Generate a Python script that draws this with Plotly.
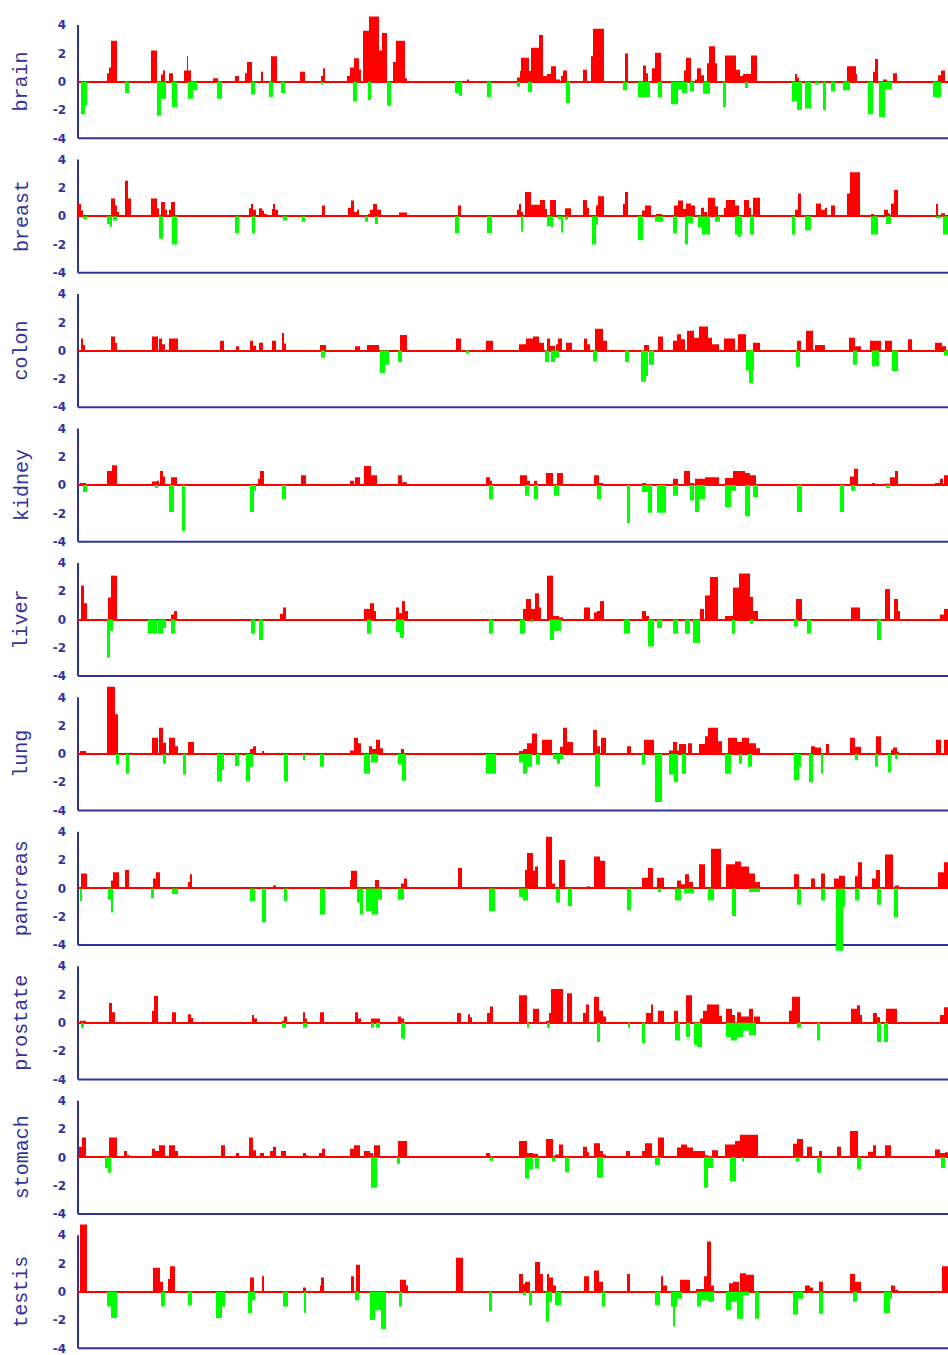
import plotly.graph_objects as go
from plotly.subplots import make_subplots

# each entry: (start position, end position, log ratio)
tissues = ["brain", "breast", "colon", "kidney", "liver",
           "lung", "pancreas", "prostate", "stomach", "testis"]

brain = [
    (81, 85, -2.3), (85, 87, -1.7),
    (107, 109, 0.6), (109, 111, 1.0), (111, 117, 2.9),
    (125, 129, -0.8), (151, 157, 2.2),
    (157, 161, -2.4), (161, 166, -1.2), (161, 163, 0.5), (163, 165, 0.8),
    (169, 173, 0.6), (172, 177, -1.8),
    (184, 187, 0.8), (187, 188, 1.8), (188, 191, 0.8),
    (188, 193, -1.2), (193, 197, -0.6),
    (213, 218, 0.25), (217, 222, -1.2), (235, 239, 0.4),
    (245, 247, 0.6), (247, 252, 1.4), (251, 255, -0.9),
    (261, 263, 0.7), (269, 273, -1.1), (271, 277, 1.8), (281, 285, -0.8),
    (300, 305, 0.7),
    (321, 323, 0.4), (323, 325, 0.95), (321, 323, -0.2),
    (347, 350, 0.4), (350, 354, 1.0), (354, 359, 1.66), (359, 361, 0.85),
    (353, 357, -1.4),
    (363, 369, 3.6), (369, 379, 4.6), (379, 382, 2.2), (382, 387, 3.45),
    (368, 371, -1.3), (387, 391, -1.7),
    (393, 396, 1.4), (396, 405, 2.9), (405, 407, 0.25),
    (455, 459, -0.8), (459, 462, -1.0), (467, 469, 0.15), (487, 491, -1.1),
    (517, 520, -0.35),
    (517, 520, 0.3), (520, 522, 0.75), (521, 529, 1.7), (529, 531, 0.75),
    (531, 539, 2.4), (539, 543, 3.3), (543, 547, 0.4), (547, 551, 0.55),
    (551, 556, 1.1), (556, 560, 0.15),
    (528, 532, -0.75), (561, 563, 0.4), (563, 567, 0.8), (566, 570, -1.5),
    (583, 587, 0.85), (591, 593, 1.8), (593, 604, 3.75),
    (623, 627, -0.6), (625, 628, 2.0), (638, 650, -1.1),
    (643, 646, 1.15), (646, 648, 0.6), (652, 655, 0.95), (655, 661, 2.05),
    (658, 662, -1.1),
    (671, 678, -1.6), (678, 682, -0.55), (682, 687, -0.8),
    (684, 686, 0.8), (686, 691, 1.7), (690, 694, -0.7),
    (695, 697, 0.15), (697, 701, 0.95), (701, 704, 0.45), (703, 710, -0.85),
    (707, 709, 1.3), (709, 715, 2.5), (715, 717, 1.3), (723, 726, -1.8),
    (725, 736, 1.85), (736, 740, 0.85), (740, 743, 0.4), (743, 751, 0.55),
    (751, 757, 1.85), (745, 748, -0.45),
    (792, 797, -1.4), (797, 802, -2.0), (805, 811, -1.9), (815, 819, -0.2),
    (823, 826, -2.0), (831, 835, -0.7),
    (795, 797, 0.55), (797, 799, 0.3),
    (847, 856, 1.1), (853, 857, 0.55), (843, 850, -0.6),
    (868, 873, -2.3), (879, 885, -2.5), (885, 892, -0.55),
    (873, 875, 0.7), (875, 878, 1.6), (883, 887, 0.15), (893, 897, 0.6),
    (933, 941, -1.1), (938, 941, 0.45), (941, 945, 0.8),
]

breast = [
    (78, 81, 0.85), (81, 83, 0.4), (83, 87, -0.2),
    (111, 115, 1.25), (115, 117, 0.75), (117, 119, 0.3),
    (107, 110, -0.55), (110, 112, -0.75), (113, 117, -0.3),
    (125, 128, 2.5), (128, 131, 1.25),
    (151, 157, 1.25), (157, 159, 0.55), (159, 163, -1.6),
    (161, 165, 1.0), (165, 167, 0.45), (169, 171, 0.45), (171, 175, 1.0),
    (172, 177, -2.0), (235, 239, -1.2),
    (249, 251, 0.55), (251, 253, 0.85), (253, 256, 0.45), (252, 255, -1.2),
    (259, 262, 0.55), (262, 264, 0.4), (264, 267, 0.15),
    (272, 273, 0.5), (273, 275, 0.85), (275, 278, 0.45),
    (283, 287, -0.3), (302, 305, -0.4), (322, 325, 0.75),
    (348, 351, 0.6), (351, 354, 1.1), (354, 357, 0.3), (357, 359, 0.45),
    (365, 368, -0.4), (368, 370, 0.15), (373, 377, 0.85), (370, 381, 0.45),
    (375, 378, -0.55), (399, 407, 0.25),
    (458, 461, 0.75), (455, 459, -1.2), (487, 492, -1.2),
    (517, 519, 0.45), (519, 521, 0.85), (521, 523, 0.3), (521, 523, -1.1),
    (525, 531, 1.7), (531, 540, 0.8), (540, 545, 1.15), (545, 547, 0.5),
    (550, 556, 1.15),
    (547, 551, -0.7), (551, 553, -0.8), (558, 561, -0.2), (561, 563, -1.15),
    (565, 568, -0.25), (565, 571, 0.55),
    (583, 587, 1.15), (587, 589, 0.6), (592, 596, -2.0), (596, 598, -0.6),
    (596, 598, 0.75), (598, 604, 1.4),
    (623, 625, 0.85), (625, 628, 1.7), (638, 643, -1.7),
    (642, 645, 0.4), (645, 651, 0.75), (656, 662, 0.15), (655, 663, -0.4),
    (674, 678, 0.75), (678, 683, 1.1), (683, 686, 0.5), (686, 691, 0.9),
    (691, 695, 0.75),
    (673, 677, -1.2), (685, 688, -2.0), (688, 693, -0.5), (698, 702, -0.8),
    (702, 710, -1.3), (715, 720, -0.4),
    (701, 704, 0.6), (704, 707, 0.3), (708, 715, 1.3), (715, 718, 0.7),
    (724, 726, 0.6), (726, 735, 1.15), (735, 739, 0.75), (744, 749, 1.15),
    (749, 751, 0.6), (753, 760, 1.3),
    (735, 742, -1.3), (738, 741, -1.45), (750, 754, -1.3),
    (795, 798, 0.45), (798, 801, 1.6), (792, 795, -1.3), (805, 811, -1.0),
    (816, 821, 0.9), (821, 825, 0.45), (825, 827, 0.6), (831, 835, 0.75),
    (847, 850, 1.6), (850, 860, 3.1),
    (871, 874, 0.15), (871, 878, -1.3),
    (884, 888, 0.45), (887, 890, 0.2), (891, 894, 0.9), (894, 898, 1.85),
    (886, 891, -0.55),
    (936, 938, 0.85), (941, 945, 0.2), (936, 941, -0.15), (943, 948, -1.3),
]

colon = [
    (81, 83, 0.85), (83, 85, 0.4), (111, 115, 1.0), (115, 117, 0.55),
    (152, 158, 1.0), (159, 162, 0.85), (162, 165, 0.45), (169, 178, 0.85),
    (220, 224, 0.7), (236, 239, 0.3), (250, 253, 0.7), (253, 256, 0.35),
    (259, 263, 0.55), (272, 276, 0.7), (282, 284, 1.25), (284, 286, 0.5),
    (320, 326, 0.4), (321, 325, -0.5), (355, 360, 0.3), (367, 379, 0.4),
    (380, 385, -1.6), (385, 389, -1.0), (400, 407, 1.1), (398, 402, -0.8),
    (456, 461, 0.85), (466, 469, -0.2), (486, 493, 0.7),
    (519, 526, 0.45), (526, 533, 0.85), (533, 539, 1.0), (539, 544, 0.55),
    (547, 550, 0.85), (550, 555, 0.35), (556, 562, 0.45), (558, 562, 0.85),
    (566, 572, 0.55),
    (545, 549, -0.8), (551, 555, -0.8), (555, 559, -0.5),
    (584, 587, 0.85), (587, 590, 0.45), (595, 603, 1.55), (603, 607, 0.7),
    (593, 597, -0.75), (625, 629, -0.8),
    (641, 646, -2.2), (646, 648, -1.8), (649, 654, -1.0),
    (644, 649, 0.4), (658, 663, 1.0),
    (673, 677, 0.7), (677, 681, 1.15), (681, 685, 0.8), (687, 694, 1.4),
    (694, 699, 0.9), (699, 708, 1.7), (708, 712, 0.9), (712, 719, 0.45),
    (724, 735, 0.85), (738, 746, 1.15), (753, 760, 0.55),
    (746, 754, -1.4), (749, 753, -2.3),
    (797, 801, 0.7), (806, 813, 1.4), (815, 825, 0.4), (796, 800, -1.15),
    (849, 855, 0.9), (855, 861, 0.3), (853, 857, -1.0),
    (870, 881, 0.7), (885, 892, 0.7), (908, 912, 0.8),
    (872, 879, -1.1), (892, 898, -1.45),
    (935, 942, 0.55), (942, 946, 0.3), (944, 948, -0.35),
]

kidney = [
    (80, 86, 0.15), (83, 87, -0.5), (107, 112, 1.0), (112, 117, 1.4),
    (152, 157, 0.25), (157, 159, 0.3), (160, 163, 1.0), (163, 165, 0.6),
    (171, 177, 0.55),
    (155, 158, -0.2), (169, 174, -1.9), (182, 185, -3.25),
    (250, 254, -1.9), (254, 256, -0.4), (258, 260, 0.45), (260, 264, 1.0),
    (282, 286, -1.0), (301, 306, 0.7),
    (350, 354, 0.3), (355, 360, 0.55), (364, 371, 1.35), (371, 377, 0.7),
    (398, 402, 0.7), (402, 407, 0.2),
    (486, 490, 0.55), (490, 492, 0.3), (489, 493, -1.0),
    (520, 527, 0.7), (527, 530, 0.3), (534, 537, 0.3), (546, 553, 0.85),
    (557, 563, 0.85),
    (525, 529, -0.75), (534, 538, -1.0), (554, 559, -0.75),
    (594, 599, 0.7), (599, 603, 0.15), (597, 601, -1.0), (627, 630, -2.7),
    (642, 646, 0.15), (642, 648, -0.5), (648, 652, -1.95), (657, 666, -1.95),
    (673, 678, 0.45), (673, 678, -0.75),
    (684, 690, 1.0), (690, 694, 0.15),
    (690, 694, -1.1), (695, 699, -1.9), (699, 705, -1.0),
    (695, 705, 0.45), (705, 719, 0.55),
    (725, 733, 0.5), (733, 745, 1.0), (745, 750, 0.85), (750, 756, 0.7),
    (725, 731, -1.55), (731, 736, -0.4), (745, 750, -2.2), (753, 758, -0.85),
    (797, 802, -1.9), (840, 844, -1.9),
    (850, 854, 0.6), (854, 858, 1.15), (851, 855, -0.4),
    (872, 875, 0.15), (886, 889, 0.1), (890, 895, 0.55), (895, 898, 1.0),
    (886, 890, -0.2),
    (935, 940, 0.15), (940, 943, 0.45), (944, 948, 0.7),
]

liver = [
    (81, 84, 2.4), (84, 87, 1.15), (108, 111, 1.55), (111, 117, 3.1),
    (107, 110, -2.7), (110, 113, -0.8),
    (148, 154, -1.0), (154, 157, -1.0), (158, 163, -1.0), (163, 166, -0.6),
    (171, 174, 0.35), (174, 177, 0.6), (171, 175, -1.0),
    (251, 255, -1.0), (259, 263, -1.45), (280, 283, 0.4), (283, 286, 0.85),
    (364, 370, 0.75), (370, 374, 1.15), (372, 376, 0.6), (367, 371, -1.0),
    (396, 399, 0.85), (399, 402, 0.45), (402, 405, 1.3), (405, 408, 0.6),
    (396, 400, -0.9), (400, 404, -1.3), (489, 493, -1.0),
    (523, 526, 0.75), (526, 531, 1.45), (531, 535, 0.75), (535, 539, 1.85),
    (539, 541, 0.85), (520, 525, -1.0), (531, 533, -0.2),
    (547, 553, 3.1), (553, 559, 0.25), (559, 563, 0.15),
    (550, 554, -1.45), (554, 561, -0.8),
    (584, 590, 0.85), (594, 597, 0.5), (597, 600, 0.6), (600, 604, 1.3),
    (624, 630, -1.0), (642, 646, 0.6), (646, 649, 0.25),
    (648, 654, -1.9), (657, 662, -0.6),
    (673, 678, -1.0), (685, 690, -1.0), (693, 700, -1.65),
    (700, 704, 0.75), (705, 710, 1.7), (710, 718, 3.0), (732, 735, -1.0),
    (725, 733, 0.25), (733, 739, 2.25), (739, 750, 3.25), (750, 753, 1.6),
    (753, 758, 0.6), (750, 753, -0.3),
    (796, 802, 1.45), (794, 798, -0.5), (807, 811, -1.0),
    (851, 860, 0.85), (877, 881, -1.45),
    (885, 890, 2.15), (894, 898, 1.45), (898, 900, 0.6),
    (940, 944, 0.35), (944, 948, 0.75),
]

lung = [
    (80, 86, 0.2), (107, 115, 4.75), (115, 118, 2.8),
    (116, 119, -0.75), (126, 129, -1.4),
    (152, 158, 1.15), (159, 163, 1.85), (163, 166, 0.8), (169, 175, 1.15),
    (175, 178, 0.55), (188, 194, 0.85),
    (163, 166, -0.7), (183, 186, -1.45),
    (217, 222, -1.95), (222, 224, -1.1), (235, 239, -0.85), (246, 250, -1.95),
    (250, 253, -0.9), (284, 288, -1.95), (303, 305, -0.45), (320, 324, -0.9),
    (250, 253, 0.35), (253, 256, 0.55), (262, 264, 0.2),
    (350, 354, 0.25), (354, 358, 1.15), (358, 361, 0.75),
    (364, 370, -1.4), (371, 378, -0.6),
    (369, 372, 0.55), (372, 376, 0.35), (376, 380, 1.0), (380, 383, 0.4),
    (401, 404, 0.35), (398, 402, -0.75), (402, 406, -1.9), (486, 496, -1.4),
    (519, 523, 0.2), (523, 527, 0.35), (527, 532, 0.75), (532, 537, 1.45),
    (542, 545, 1.0), (545, 552, 1.0), (560, 563, 0.5), (563, 567, 1.85),
    (567, 573, 0.85),
    (519, 523, -0.6), (523, 527, -1.4), (527, 532, -0.9), (536, 540, -0.75),
    (553, 563, -0.35), (557, 560, -0.7),
    (593, 597, 1.7), (597, 600, 0.55), (601, 606, 1.15), (595, 600, -2.3),
    (627, 631, 0.55), (644, 654, 1.0), (642, 645, -0.75), (655, 662, -3.4),
    (669, 674, 0.25), (673, 677, 0.85), (677, 683, 0.25), (679, 686, 0.7),
    (688, 692, 0.75),
    (669, 674, -1.45), (674, 678, -2.0), (682, 686, -1.4),
    (699, 705, 0.7), (705, 708, 1.25), (708, 718, 1.85), (718, 722, 0.9),
    (725, 731, -1.4), (739, 742, -0.7), (748, 752, -0.9),
    (728, 737, 1.15), (737, 742, 0.85), (742, 749, 1.15), (749, 756, 0.75),
    (755, 760, 0.4),
    (794, 799, -1.85), (799, 801, -0.9), (809, 813, -2.0), (821, 823, -1.4),
    (811, 815, 0.55), (815, 821, 0.45), (826, 829, 0.7),
    (850, 855, 1.15), (855, 861, 0.5), (855, 858, -0.45), (875, 878, -0.9),
    (876, 881, 1.25), (891, 895, 0.3), (893, 897, 0.45), (897, 899, 0.15),
    (888, 891, -1.3), (895, 898, -0.35),
    (936, 941, 1.0), (944, 948, 1.0),
]

pancreas = [
    (80, 82, -0.9), (81, 87, 1.05), (108, 111, -0.8), (111, 113, -1.7),
    (111, 113, 0.55), (113, 119, 1.15), (125, 129, 1.3),
    (153, 156, 0.7), (156, 160, 1.15), (151, 154, -0.7), (172, 178, -0.4),
    (188, 190, 0.45), (190, 192, 1.0),
    (250, 255, -0.9), (262, 266, -2.4), (273, 276, 0.2), (284, 287, -0.9),
    (320, 325, -1.85),
    (350, 353, 0.6), (351, 357, 1.25), (357, 360, -1.0), (360, 363, -1.85),
    (366, 372, -1.6), (372, 378, -1.85), (378, 382, -0.8), (375, 379, 0.6),
    (401, 404, 0.35), (404, 407, 0.7), (398, 404, -0.8),
    (458, 462, 1.45), (489, 495, -1.6),
    (525, 529, 1.3), (527, 533, 2.5), (533, 538, 1.25), (535, 538, 1.55),
    (519, 523, -0.6), (523, 528, -0.85),
    (546, 552, 3.65), (552, 555, 0.35), (556, 560, -1.0), (559, 565, 2.0),
    (568, 572, -1.25),
    (587, 590, 0.15), (594, 600, 2.25), (600, 605, 1.95), (627, 631, -1.55),
    (642, 648, 0.75), (648, 653, 1.45), (657, 664, 0.75), (658, 661, -0.25),
    (677, 681, 0.55), (681, 685, 0.3), (685, 689, 1.0), (689, 693, 0.45),
    (675, 681, -0.85), (684, 694, -0.35),
    (699, 705, 1.7), (711, 721, 2.8), (708, 714, -0.85),
    (726, 735, 1.7), (735, 741, 1.9), (741, 749, 1.55), (749, 755, 1.05),
    (755, 760, 0.45), (732, 736, -1.95), (749, 760, -0.25),
    (794, 799, 1.0), (811, 815, 0.7), (821, 825, 1.05),
    (797, 801, -1.15), (821, 825, -0.85),
    (836, 843, -4.4), (841, 845, -1.3),
    (834, 839, 0.7), (839, 845, 0.9), (855, 859, 0.85), (858, 862, 1.85),
    (855, 859, -0.85),
    (872, 876, 0.7), (876, 880, 1.3), (885, 893, 2.4), (895, 899, 0.2),
    (877, 881, -1.15), (894, 898, -2.05),
    (938, 944, 1.15), (944, 948, 1.85),
]

prostate = [
    (80, 86, 0.15), (81, 84, -0.35), (109, 112, 1.4), (112, 115, 0.75),
    (152, 154, 0.85), (154, 158, 1.9), (172, 176, 0.75), (188, 191, 0.6),
    (191, 193, 0.35), (252, 254, 0.55), (254, 257, 0.3),
    (282, 284, 0.15), (284, 287, 0.45), (282, 286, -0.35),
    (303, 305, 0.75), (305, 307, 0.3), (303, 307, -0.35), (320, 324, 0.75),
    (355, 358, 0.75), (358, 361, 0.3),
    (371, 380, 0.3), (371, 374, -0.35), (376, 380, -0.35),
    (398, 401, 0.45), (401, 404, 0.3), (401, 405, -1.1),
    (457, 461, 0.7), (468, 470, 0.6), (470, 472, 0.4),
    (487, 490, 0.7), (490, 493, 1.15), (519, 527, 1.95), (527, 529, -0.35),
    (533, 539, 1.0),
    (546, 549, 0.15), (549, 551, 0.7), (551, 563, 2.4), (567, 572, 2.1),
    (547, 550, -0.35),
    (583, 586, 0.7), (586, 589, 1.3), (594, 599, 1.85), (599, 603, 0.85),
    (603, 606, 0.45), (597, 600, -1.35), (628, 630, -0.35),
    (646, 651, 0.7), (651, 653, 1.3), (658, 664, 0.85), (642, 645, -1.45),
    (674, 678, 0.85), (686, 692, 1.95), (700, 703, 0.3), (703, 707, 0.85),
    (707, 719, 1.3), (719, 722, 0.5),
    (675, 680, -1.25), (686, 690, -1.0), (694, 697, -1.55), (697, 702, -1.7),
    (726, 732, 1.0), (732, 735, 0.55), (737, 741, 0.75), (741, 749, 0.45),
    (749, 753, 1.0), (754, 760, 0.45),
    (726, 731, -1.0), (731, 737, -1.25), (737, 743, -1.0), (743, 749, -0.55),
    (749, 756, -0.85),
    (789, 792, 0.85), (792, 800, 1.85), (797, 801, -0.35), (817, 820, -1.25),
    (851, 857, 1.0), (857, 860, 1.25), (860, 862, 0.55),
    (873, 877, 0.7), (877, 880, 0.4), (886, 897, 1.0),
    (877, 881, -1.35), (884, 888, -1.35),
    (940, 944, 0.55), (944, 948, 1.1),
]

stomach = [
    (79, 82, 0.75), (82, 86, 1.4), (105, 108, -0.75), (108, 111, -1.1),
    (109, 117, 1.4), (124, 127, 0.45), (127, 130, 0.15),
    (152, 155, 0.6), (155, 159, 0.45), (159, 165, 0.85), (169, 175, 0.85),
    (175, 178, 0.45),
    (221, 225, 0.85), (236, 239, 0.3), (249, 253, 1.4), (253, 256, 0.5),
    (260, 264, 0.3), (270, 273, 0.45), (273, 276, 0.75), (281, 286, 0.45),
    (303, 306, 0.3), (306, 308, 0.15), (319, 322, 0.3), (322, 325, 0.6),
    (350, 354, 0.6), (354, 360, 0.85), (364, 370, 0.45), (370, 373, 0.3),
    (374, 380, 0.85), (371, 377, -2.15),
    (398, 407, 1.15), (397, 400, -0.45), (486, 490, 0.3), (490, 493, -0.25),
    (519, 527, 1.15), (527, 533, 0.3), (533, 538, 0.25), (546, 553, 1.3),
    (555, 560, 0.2), (559, 563, 0.9),
    (525, 529, -1.5), (529, 533, -0.85), (535, 539, -0.8), (552, 555, -0.3),
    (565, 569, -1.05),
    (583, 587, 0.75), (585, 589, 0.35), (594, 600, 1.0), (600, 603, 0.45),
    (603, 606, 0.2), (597, 603, -1.45), (626, 630, 0.45),
    (642, 645, 0.45), (645, 652, 1.0), (658, 664, 1.4), (655, 660, -0.55),
    (677, 681, 0.7), (681, 687, 0.9), (687, 693, 0.7), (693, 699, 0.45),
    (699, 705, 0.45), (705, 708, 0.15), (712, 718, 0.5),
    (704, 708, -2.15), (708, 713, -0.75),
    (725, 735, 0.9), (735, 740, 1.15), (740, 758, 1.6),
    (730, 736, -1.7), (742, 744, -0.3),
    (793, 797, 0.95), (797, 803, 1.3), (807, 812, 0.75), (819, 822, 0.45),
    (796, 799, -0.3), (817, 821, -1.1),
    (837, 841, 0.75), (850, 858, 1.85), (868, 873, 0.4), (873, 876, 0.85),
    (885, 891, 0.85), (857, 861, -0.85),
    (935, 940, 0.55), (940, 945, 0.3), (945, 949, 0.35), (941, 945, -0.75),
]

testis = [
    (80, 87, 4.75), (107, 111, -1.05), (111, 117, -1.85),
    (153, 160, 1.7), (160, 163, 0.7), (168, 172, 0.9), (170, 175, 1.8),
    (161, 165, -1.05), (188, 192, -0.95), (216, 222, -1.85), (222, 225, -1.05),
    (250, 254, 1.0), (248, 252, -1.5), (252, 255, -0.6),
    (262, 264, 1.1), (283, 288, -1.05), (303, 306, 0.3), (304, 306, -1.5),
    (320, 322, 0.45), (321, 324, 1.0),
    (351, 354, 1.1), (356, 360, 1.9), (355, 359, -0.6),
    (370, 375, -2.0), (375, 381, -1.3), (381, 386, -2.65),
    (400, 406, 0.85), (406, 408, 0.45), (399, 402, -1.05),
    (456, 463, 2.4), (489, 492, -1.4),
    (519, 523, 1.25), (523, 527, 0.55), (525, 530, 0.7), (535, 540, 2.1),
    (540, 543, 1.25), (547, 549, 1.25), (549, 553, 1.0), (553, 556, 0.45),
    (523, 526, -0.25), (529, 532, -0.95), (546, 549, -2.1), (549, 552, -0.7),
    (555, 561, -0.95),
    (584, 589, 1.1), (594, 599, 1.5), (599, 603, 0.7), (602, 605, -1.05),
    (627, 630, 1.25), (655, 660, -0.95), (661, 663, 1.1), (663, 667, 0.45),
    (671, 677, -1.05), (673, 675, -2.45), (677, 682, -0.5),
    (680, 686, 0.85), (686, 690, 0.85), (696, 700, 0.2), (700, 704, 0.2),
    (704, 707, 1.1), (707, 711, 3.55), (711, 714, 0.45),
    (697, 701, -1.05), (701, 708, -0.6), (708, 714, -0.7),
    (729, 733, 0.6), (733, 739, 0.7), (740, 746, 1.3), (746, 754, 1.2),
    (726, 731, -1.3), (731, 737, -0.7), (737, 743, -1.9), (743, 749, -0.25),
    (755, 759, -1.9),
    (805, 810, 0.45), (810, 813, 0.3), (819, 823, 0.7),
    (793, 798, -1.6), (798, 803, -0.5), (819, 823, -1.55),
    (850, 855, 1.25), (855, 861, 0.7), (853, 857, -0.7),
    (891, 895, 0.45), (895, 898, 0.15), (884, 890, -1.5), (890, 892, -0.5),
    (942, 948, 1.8),
]

series = [brain, breast, colon, kidney, liver,
          lung, pancreas, prostate, stomach, testis]

NAVY = "#333399"
H = 1355
ZERO0, PITCH, UNIT = 81.7, 134.45, 14.15  # panel layout in px

fig = make_subplots(rows=10, cols=1)

for i, (name, segs) in enumerate(zip(tissues, series)):
    row = i + 1
    xs = [(a + b) / 2 for a, b, v in segs]
    ws = [b - a for a, b, v in segs]
    ys = [v for a, b, v in segs]
    cols = ["#ff0000" if v > 0 else "#00ff00" for v in ys]
    fig.add_trace(
        go.Bar(x=xs, y=ys, width=ws, marker=dict(color=cols, line=dict(width=0)),
               hoverinfo="x+y"),
        row=row, col=1,
    )

    # y range grows past +/-4 where a bar overshoots, as in the original
    z = ZERO0 + PITCH * i
    hi = max(4, max(ys) + 0.05)
    lo = min(-4, min(ys) - 0.05)
    hi = min(hi, z / UNIT)
    lo = max(lo, -(H - z) / UNIT)
    top_px, bot_px = z - hi * UNIT, z - lo * UNIT
    fig.update_yaxes(range=[lo, hi], domain=[1 - bot_px / H, 1 - top_px / H],
                     row=row, col=1)

    # axis frame (left + bottom) spanning -4..4, drawn unclipped
    sfx = "" if row == 1 else str(row)
    f_lo = (-4 - lo) / (hi - lo)
    f_hi = (4 - lo) / (hi - lo)
    fig.add_shape(type="line", xref=f"x{sfx} domain", yref=f"y{sfx} domain",
                  x0=0, x1=0, y0=f_lo, y1=f_hi, layer="below",
                  line=dict(color=NAVY, width=2))
    fig.add_shape(type="line", xref=f"x{sfx} domain", yref=f"y{sfx} domain",
                  x0=0, x1=1, y0=f_lo, y1=f_lo, layer="below",
                  line=dict(color=NAVY, width=2))
    fig.add_annotation(
        text=name, textangle=-90, xref="paper", yref=f"y{sfx} domain",
        x=-0.0645, y=1 - (z - top_px) / (bot_px - top_px),
        xanchor="center", yanchor="middle", showarrow=False,
        font=dict(family="Liberation Mono, Courier New, monospace", size=20, color=NAVY),
    )

fig.update_xaxes(
    range=[78, 948], showticklabels=False, showgrid=False, zeroline=False,
    showline=False, ticks="", automargin=False,
)
fig.update_yaxes(
    tickvals=[4, 2, 0, -2, -4], ticktext=["4", "2", "0", "-2", "-4"],
    showgrid=False, zeroline=True, zerolinecolor="#ff0000", zerolinewidth=2,
    showline=False, ticks="", ticklabelstandoff=11, automargin=False,
    ticklabeloverflow="allow",
    tickfont=dict(family="DejaVu Sans", size=12, color=NAVY, weight="bold"),
)
fig.update_layout(
    width=948, height=H, barmode="overlay", showlegend=False,
    plot_bgcolor="white", paper_bgcolor="white",
    margin=dict(l=78, r=0, t=0, b=0),
)

# drop the page's default body margin and scrollbars so the chart sits flush
fig.write_html(
    "out.html",
    config={"displayModeBar": False},
    post_script=("document.body.style.margin='0';"
                 "document.body.style.overflow='hidden';"
                 "document.documentElement.style.overflow='hidden';"),
)
